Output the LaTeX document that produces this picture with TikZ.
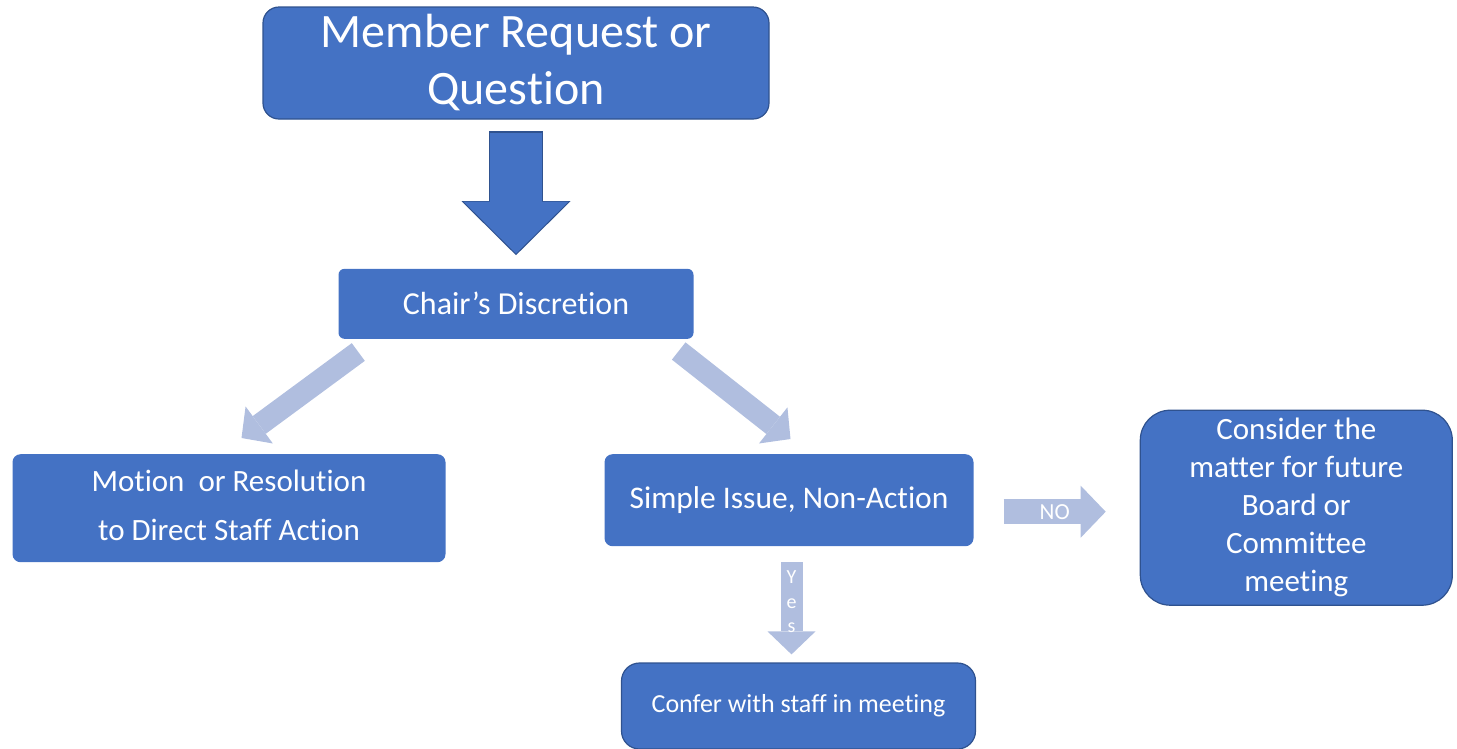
\documentclass[tikz,border=0pt]{standalone}
\usepackage{fontspec}
\setmainfont{Carlito}[Ligatures={TeX,NoCommon}]
\usetikzlibrary{positioning,arrows.meta}

\definecolor{boxblue}{RGB}{68,114,196}
\definecolor{edgeblue}{RGB}{47,82,143}
\definecolor{paleblue}{RGB}{176,190,223}

\begin{document}
\begin{tikzpicture}[x=1pt,y=1pt]
\tikzset{
    every node/.style = {align=center, text=white, inner sep=0pt},
    block/.style = {rectangle, fill=boxblue, rounded corners=8pt},
    outlined/.style = {draw=edgeblue, line width=1.2pt},
    paleflow/.style = {draw=paleblue, line width=22pt,
        arrows={-Triangle[length=22pt, width=46pt, line width=0pt]}},
    bigflow/.style = {draw=boxblue, line width=52pt,
        arrows={-Triangle[length=52pt, width=105pt, line width=0pt]},
        preaction={draw=edgeblue, line width=54.4pt,
            arrows={-Triangle[length=54pt, width=109pt, line width=0pt]},
            shorten >=-1.6pt, shorten <=-1.2pt}}
}

\useasboundingbox (0,0) rectangle (1457,-748);

% -------------------------------------------------------
\node[block, outlined, rounded corners=16pt, minimum width=506pt, minimum height=112pt,
      font=\fontsize{48pt}{57pt}\selectfont] (request) at (516,-63) {
    Member Request or\\
    Question
};

\node[block, rounded corners=6pt, below=149pt of request, minimum width=355pt, minimum height=70pt,
      font=\fontsize{32pt}{38pt}\selectfont] (chair) {Chair’s Discretion};

\node[block, below=115pt of chair, xshift=-287pt, minimum width=433pt, minimum height=108pt,
      text depth=6pt, font=\fontsize{31pt}{49pt}\selectfont] (motion) {
    Motion~ or Resolution\\
    to Direct Staff Action
};

\node[block, below=115pt of chair, xshift=273pt, minimum width=369pt, minimum height=92pt,
      font=\fontsize{31.5pt}{38pt}\selectfont] (simple) {Simple Issue, Non-Action};

\node[block, outlined, rounded corners=30pt, right=166pt of simple, yshift=-7.5pt,
      minimum width=312pt, minimum height=195pt,
      font=\fontsize{31pt}{38pt}\selectfont] (consider) {
    Consider the\\
    matter for future\\
    Board or\\
    Committee\\
    meeting
};

\node[block, outlined, rounded corners=18pt, below=116pt of simple, xshift=9.5pt,
      minimum width=354pt, minimum height=86pt,
      font=\fontsize{26pt}{31pt}\selectfont] (confer) {Confer with staff in meeting};

% -------------------------------------------------------
\path[bigflow] ([yshift=-13pt]request.south) -- ([yshift=15pt]chair.north);

\path[paleflow] ([shift={(20pt,-13pt)}]chair.south west) -- ([shift={(12.5pt,16pt)}]motion.north);
\path[paleflow] ([shift={(-15pt,-12pt)}]chair.south east) -- ([shift={(1.5pt,15pt)}]simple.north);

\path[paleflow, line width=25pt, arrows={-Triangle[length=25pt, width=52pt, line width=0pt]}]
    ([shift={(30pt,-11.5pt)}]simple.east) -- ([shift={(-34pt,-4pt)}]consider.west)
    node[midway, font=\fontsize{23pt}{27pt}\selectfont] {NO};

\path[paleflow, arrows={-Triangle[length=23pt, width=48pt, line width=0pt]}]
    ([shift={(2.5pt,-16pt)}]simple.south) -- ([shift={(-7pt,8pt)}]confer.north)
    node[pos=.43, font=\fontsize{20pt}{24.5pt}\selectfont] {Y\\e\\s};
\end{tikzpicture}
\end{document}
